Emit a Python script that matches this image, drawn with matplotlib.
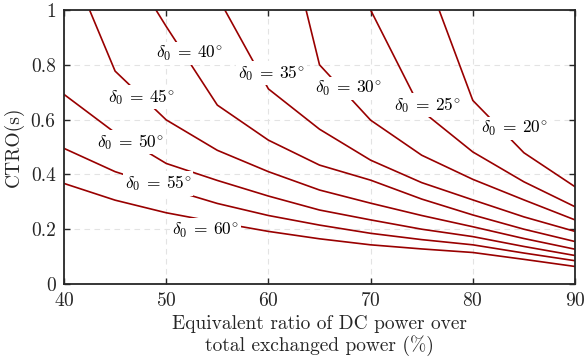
import numpy as np
import matplotlib
matplotlib.use("Agg")
import matplotlib.pyplot as plt

plt.rcParams['font.family'] = 'serif'
plt.rcParams['font.serif'] = ['cmr10', 'DejaVu Serif']
plt.rcParams['mathtext.fontset'] = 'cm'
plt.rcParams['axes.formatter.use_mathtext'] = True

# equivalent DC power ratio (%) at which the curves were sampled
ratio = [40, 45, 50, 55, 60, 65, 70, 75, 80, 85, 90]
nan = np.nan

# CTRO (s) for each initial angle delta_0 (deg)
delta0 = [20, 25, 30, 35, 40, 45, 50, 55, 60]
ctro_20 = [nan, nan, nan, nan, nan, nan, nan, 1.17, 0.670, 0.479, 0.355]
ctro_25 = [nan, nan, nan, nan, nan, nan, 1.0, 0.632, 0.482, 0.373, 0.282]
ctro_30 = [nan, nan, nan, nan, 1.56, 0.80, 0.598, 0.47, 0.382, 0.307, 0.234]
ctro_35 = [nan, nan, nan, 1.05, 0.712, 0.565, 0.452, 0.37, 0.307, 0.245, 0.192]
ctro_40 = [nan, 1.24, 0.94, 0.653, 0.525, 0.434, 0.379, 0.31, 0.252, 0.20, 0.155]
ctro_45 = [1.223, 0.777, 0.599, 0.488, 0.41, 0.343, 0.295, 0.25, 0.209, 0.166, 0.127]
ctro_50 = [0.692, 0.552, 0.44, 0.378, 0.321, 0.27, 0.234, 0.20, 0.173, 0.137, 0.104]
ctro_55 = [0.495, 0.41, 0.35, 0.294, 0.25, 0.215, 0.185, 0.162, 0.143, 0.113, 0.085]
ctro_60 = [0.367, 0.306, 0.26, 0.225, 0.192, 0.165, 0.143, 0.128, 0.115, 0.09, 0.064]
curves = [ctro_20, ctro_25, ctro_30, ctro_35, ctro_40, ctro_45, ctro_50, ctro_55, ctro_60]

# where each inline label sits (ratio, CTRO)
label_x = [84.1, 75.6, 67.8, 60.3, 52.3, 47.6, 46.5, 49.2, 53.8]
label_y = [0.568, 0.653, 0.714, 0.771, 0.842, 0.681, 0.519, 0.367, 0.197]

fig = plt.figure(figsize=(5.84, 3.6), dpi=100)
ax = fig.add_axes([0.1096, 0.2111, 0.875, 0.7611])

for d, c in zip(delta0, curves):
    ax.plot(ratio, c, color='#990000', lw=1.2, zorder=2)

for d, lx, ly in zip(delta0, label_x, label_y):
    ax.text(lx, ly, r'$\delta_0 \:=\: %d^{\circ}$' % d, fontsize=12.5, ha='center', va='center',
            zorder=3, bbox=dict(facecolor='white', edgecolor='none', pad=1.5))

ax.set_xlim(40, 90)
ax.set_ylim(0, 1)
ax.set_xticks([40, 50, 60, 70, 80, 90])
ax.set_yticks([0, 0.2, 0.4, 0.6, 0.8, 1])
ax.set_yticklabels(['0', '0.2', '0.4', '0.6', '0.8', '1'])
ax.tick_params(direction='in', top=True, right=True, labelsize=14, length=4,
               width=1, color='#262626', labelcolor='#262626')
ax.tick_params(axis='x', pad=6)
ax.tick_params(axis='y', pad=6)
ax.grid(True, ls=(0, (5, 4)), color='#e3e3e3', lw=0.8, zorder=0)
for s in ax.spines.values():
    s.set_linewidth(1.3)
    s.set_color('#262626')

ax.set_xlabel('Equivalent ratio of DC power over\ntotal exchanged power (%)', fontsize=14,
              color='#262626', linespacing=1.15, labelpad=3)
ax.set_ylabel('CTRO(s)', fontsize=14, color='#262626', labelpad=5)

fig.savefig('out.png', dpi=100)
